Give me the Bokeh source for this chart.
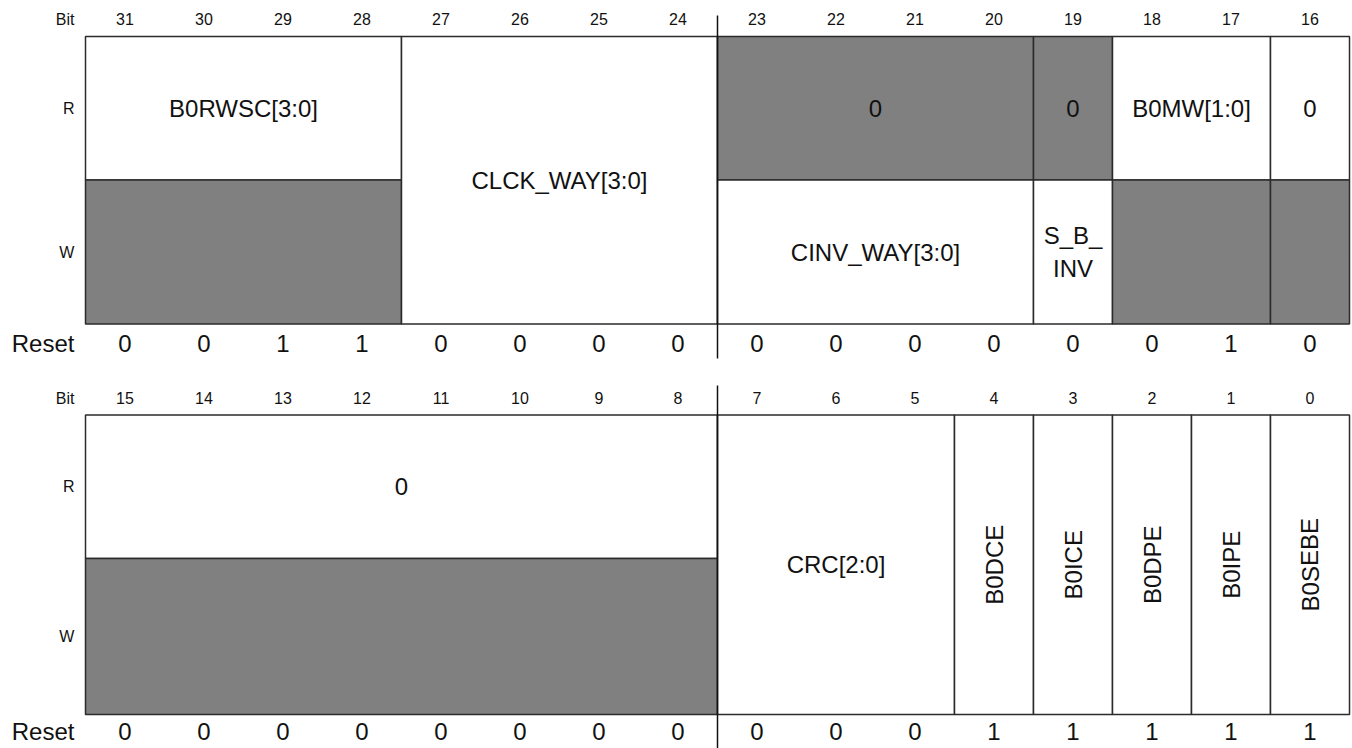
import math
from bokeh.plotting import figure
from bokeh.models import Range1d, ColumnDataSource
from bokeh.embed import file_html
from bokeh.resources import INLINE
from bokeh.core.properties import value

# ---------------- data ----------------
top_bits = [31, 30, 29, 28, 27, 26, 25, 24, 23, 22, 21, 20, 19, 18, 17, 16]
bottom_bits = [15, 14, 13, 12, 11, 10, 9, 8, 7, 6, 5, 4, 3, 2, 1, 0]
top_reset = [0, 0, 1, 1, 0, 0, 0, 0, 0, 0, 0, 0, 0, 0, 1, 0]
bottom_reset = [0, 0, 0, 0, 0, 0, 0, 0, 0, 0, 0, 1, 1, 1, 1, 1]
row_labels = ["R", "W"]

top_field_names = ["B0RWSC[3:0]", "", "CLCK_WAY[3:0]", "0", "0", "B0MW[1:0]", "0",
                   "CINV_WAY[3:0]", "S_B_\nINV", "", ""]
top_field_msb = [31, 31, 27, 23, 19, 18, 16, 23, 19, 18, 16]
top_field_lsb = [28, 28, 24, 20, 19, 17, 16, 20, 19, 17, 16]
top_field_rows = ["R", "W", "RW", "R", "R", "R", "R", "W", "W", "W", "W"]
top_field_shaded = [False, True, False, True, True, False, False, False, False, True, True]
top_field_vertical = [False] * 11

bottom_field_names = ["0", "", "CRC[2:0]", "B0DCE", "B0ICE", "B0DPE", "B0IPE", "B0SEBE"]
bottom_field_msb = [15, 15, 7, 4, 3, 2, 1, 0]
bottom_field_lsb = [8, 8, 5, 4, 3, 2, 1, 0]
bottom_field_rows = ["R", "W", "RW", "RW", "RW", "RW", "RW", "RW"]
bottom_field_shaded = [False, True, False, False, False, False, False, False]
bottom_field_vertical = [False, False, False, True, True, True, True, True]

# ---------------- layout (vertical positions in pixels) ----------------
sections = [
    dict(bits=top_bits, reset=top_reset, names=top_field_names, msb=top_field_msb,
         lsb=top_field_lsb, rows=top_field_rows, shaded=top_field_shaded,
         vertical=top_field_vertical,
         bit_y=18.5, top=36, mid=179.5, bot=323.5, reset_y=342.5, sep=(15, 358)),
    dict(bits=bottom_bits, reset=bottom_reset, names=bottom_field_names, msb=bottom_field_msb,
         lsb=bottom_field_lsb, rows=bottom_field_rows, shaded=bottom_field_shaded,
         vertical=bottom_field_vertical,
         bit_y=397.5, top=414.5, mid=558, bot=714, reset_y=731, sep=(385, 748)),
]

FONT = value("Liberation Sans")
GRAY = "#808080"
LINE = "#2b2b2b"
TXT = "#111111"
LABEL_X = -0.14
BIG = "24px"
SMALL = "16px"

p = figure(width=1352, height=748, output_backend="svg", toolbar_location=None,
           x_range=Range1d(-85 / 79, (1352 - 85) / 79), y_range=Range1d(748, 0),
           min_border=0, outline_line_color=None)
p.axis.visible = False
p.grid.visible = False
p.background_fill_color = "white"
p.border_fill_color = "white"

for s in sections:
    hi = s["bits"][0]
    left = [hi - m for m in s["msb"]]
    right = [hi - l + 1 for l in s["lsb"]]
    tops, bots, ys = [], [], []
    for r in s["rows"]:
        if r == "R":
            t, b = s["top"], s["mid"]
        elif r == "W":
            t, b = s["mid"], s["bot"]
        else:
            t, b = s["top"], s["bot"]
        tops.append(t)
        bots.append(b)
        ys.append((t + b) / 2)
    fills = [GRAY if sh else "white" for sh in s["shaded"]]
    src = ColumnDataSource(dict(left=left, right=right, top=tops, bottom=bots, fill=fills))
    p.quad(left="left", right="right", top="top", bottom="bottom", fill_color="fill",
           line_color=LINE, line_width=1.5, source=src)

    # field names
    idx = [i for i, n in enumerate(s["names"]) if n]
    tsrc = ColumnDataSource(dict(
        x=[(left[i] + right[i]) / 2 for i in idx],
        y=[ys[i] for i in idx],
        text=[s["names"][i] for i in idx],
        angle=[math.pi / 2 if s["vertical"][i] else 0 for i in idx],
    ))
    p.text(x="x", y="y", text="text", angle="angle", source=tsrc, text_font=FONT,
           text_font_size=BIG, text_align="center", text_baseline="middle",
           text_color=TXT, text_line_height=1.25)

    # bit numbers
    cols = [i + 0.5 for i in range(len(s["bits"]))]
    p.text(x=cols, y=[s["bit_y"]] * len(cols), text=[str(b) for b in s["bits"]],
           text_font=FONT, text_font_size=SMALL, text_align="center",
           text_baseline="middle", text_color=TXT)
    # reset values
    p.text(x=cols, y=[s["reset_y"]] * len(cols), text=[str(v) for v in s["reset"]],
           text_font=FONT, text_font_size=BIG, text_align="center",
           text_baseline="middle", text_color=TXT)
    # left labels
    p.text(x=[LABEL_X] * 3,
           y=[s["bit_y"], (s["top"] + s["mid"]) / 2, (s["mid"] + s["bot"]) / 2],
           text=["Bit"] + row_labels, text_font=FONT, text_font_size=SMALL,
           text_align="right", text_baseline="middle", text_color=TXT)
    p.text(x=[LABEL_X], y=[s["reset_y"]], text=["Reset"], text_font=FONT,
           text_font_size=BIG, text_align="right", text_baseline="middle",
           text_color=TXT)
    # half-word separator line
    p.segment(x0=[8], y0=[s["sep"][0]], x1=[8], y1=[s["sep"][1]],
              line_color=TXT, line_width=1.5)

open("out.html", "w").write(file_html(p, INLINE))
